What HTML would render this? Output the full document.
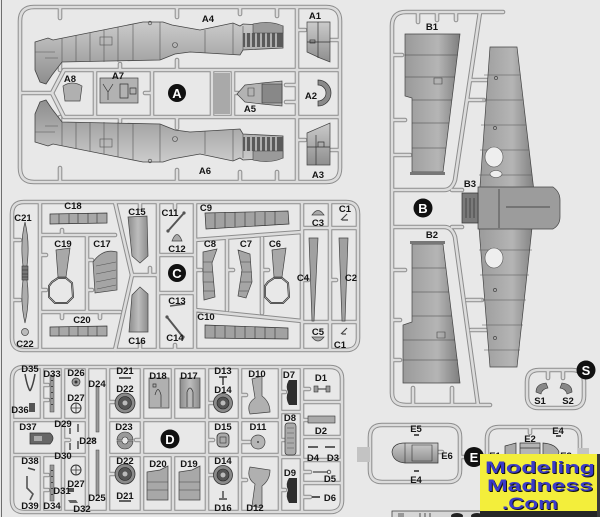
<!DOCTYPE html>
<html><head><meta charset="utf-8"><style>
html,body{margin:0;padding:0;background:#e8e8e8;}
svg{display:block;}
text{font-family:"Liberation Sans",Arial,sans-serif;font-weight:bold;}
</style></head><body>
<svg width="600" height="517" viewBox="0 0 600 517" xmlns="http://www.w3.org/2000/svg">
<defs>
<linearGradient id="gv" x1="0" y1="0" x2="0" y2="1"><stop offset="0" stop-color="#cbcbcb"/><stop offset="1" stop-color="#8e8e8e"/></linearGradient>
<linearGradient id="gh" x1="0" y1="0" x2="1" y2="0"><stop offset="0" stop-color="#8c8c8c"/><stop offset="0.5" stop-color="#bdbdbd"/><stop offset="1" stop-color="#8c8c8c"/></linearGradient>
<linearGradient id="gw" x1="0" y1="0" x2="1" y2="0"><stop offset="0" stop-color="#9a9a9a"/><stop offset="0.6" stop-color="#b5b5b5"/><stop offset="1" stop-color="#7e7e7e"/></linearGradient>
<path id="rA" d="M34,7 H326 Q340,7 340,21 V168 Q340,182 326,182 H34 Q20,182 20,168 V21 Q20,7 34,7 Z M297,7 V182 M20,93 H52 L64,70 H340 M52,93 L64,117 H340 M95,70 V117 M152,70 V117 M212,70 V117 M233,70 V117 M60,7 V18 M177,7 V17 M240,7 V14 M277,7 V16 M60,182 V168 M177,182 V170 M240,182 V172 M277,182 V172 M60,70 V62 M120,70 V64 M177,70 V60 M60,117 V124 M120,117 V122 M177,117 V128 M286,85 H297 M286,102 H297 M297,30 H305 M297,140 H305 M330,40 H340 M330,150 H340 M233,93 H238 M152,93 H145"/>
<path id="rB" d="M392,393 V26 Q392,12 406,12 H503 M480,12 L455,180 Q452,190 444,190 H392 M392,227 H444 Q452,227 455,237 L478,405 M392,393 Q392,405 406,405 H490 M452,190 H462 M452,227 H462 M392,55 H402 M392,120 H405 M392,155 H410 M392,270 H405 M392,320 H400 M392,360 H400 M418,12 V22 M437,12 V20 M456,12 V20 M413,405 V388 M452,405 V388 M470,80 H488 M467,100 H484 M467,300 H482 M471,330 H488"/>
<path id="rC" d="M24,202 H346 Q358,202 358,214 V338 Q358,350 346,350 H24 Q12,350 12,338 V214 Q12,202 24,202 Z M40,202 V350 M40,235 H115 M40,312 H120 M87,235 V312 M115,202 L132,275 L115,350 M132,275 H158 M158,202 V350 M195,202 V350 M158,255 H195 M158,293 H195 M195,240 L302,232 M195,310 L302,321 M227,240 V310 M262,238 V313 M302,202 V350 M330,202 V350 M302,228 H358 M302,322 H358 M40,255 H46 M40,290 H46 M87,260 H92 M87,290 H92 M62,235 V230 M62,312 V318 M100,312 V318 M140,202 V208 M140,350 V344 M175,202 V208 M175,350 V345 M195,270 H201 M227,270 H233 M262,270 H268 M302,280 H308 M330,280 H336 M12,240 H20 M12,300 H20 M150,275 V268"/>
<path id="rD" d="M24,367 H330 Q342,367 342,379 V500 Q342,512 330,512 H24 Q12,512 12,500 V379 Q12,367 24,367 Z M42,367 V420 M42,455 V512 M63,367 V512 M87,367 V512 M108,367 V512 M142,367 V512 M173,367 V420 M173,455 V512 M207,367 V512 M240,367 V512 M280,367 V512 M302,367 V512 M12,420 H87 M12,455 H87 M108,420 H280 M108,455 H280 M280,412 H302 M280,457 H302 M302,402 H342 M302,437 H342 M302,460 H342 M302,483 H342 M42,385 H48 M42,400 H48 M42,475 H48 M42,490 H48 M63,440 H69 M87,440 H93 M108,402 H114 M108,474 H114 M142,440 H136 M207,403 H213 M207,440 H213 M207,475 H213 M240,395 H246 M240,442 H250 M240,480 H246 M280,392 H285 M280,440 H285 M280,490 H285 M302,389 H309 M302,420 H308 M302,472 H310 M302,497 H310"/>
<path id="rS" d="M539,370 H572 Q584,370 584,382 V396 Q584,408 572,408 H539 Q527,408 527,396 V382 Q527,370 539,370 Z M548,370 V378 M563,370 V378"/>
<path id="rE" d="M382,425 H448 Q460,425 460,437 V470 Q460,482 448,482 H382 Q370,482 370,470 V437 Q370,425 382,425 Z M460,457 H465 M499,427 H568 Q580,427 580,439 V475 Q580,487 568,487 H499 Q487,487 487,475 V439 Q487,427 499,427 Z M481,457 H487 M530,427 V433 M437,452 H442"/>
<g id="fus">
<path d="M35,42 L48,38 L53,40 L143,22 L163,22 L172,25 L200,30 L233,23 L240,26 L243,24 L283,26 L283,48 L243,50 L240,55 L207,53 L190,52 L175,54 L160,60 L62,62 L52,75 L46,84 L40,82 L35,70 Z" fill="url(#gv)" stroke="#444" stroke-width="0.8"/>
<path d="M62,38 V62 M76,35 V62 M90,33 V62 M104,30 V62 M118,27 V62 M133,24 V61 M160,22 V60 M205,30 V53 M233,23 V54 M243,26 V50 M35,52 H55 M45,58 H58" stroke="#555" stroke-width="0.6" fill="none"/>
<rect x="100" y="37" width="12" height="8" fill="none" stroke="#555" stroke-width="0.6"/>
<rect x="243" y="33" width="40" height="14" fill="#5a5a5a"/>
<path d="M246,33 V47 M251,33 V47 M256,33 V47 M261,33 V47 M266,33 V47 M271,33 V47 M276,33 V47" stroke="#ddd" stroke-width="1.3"/>
<path d="M253,24 Q270,20 283,26 L283,33 L253,33 Z" fill="#9a9a9a" stroke="#444" stroke-width="0.6"/>
<circle cx="175" cy="45" r="2.5" fill="none" stroke="#444" stroke-width="0.6"/>
<circle cx="150" cy="23" r="1.8" fill="none" stroke="#444" stroke-width="0.6"/>
</g>
</defs>

<line x1="1.5" y1="0" x2="1.5" y2="517" stroke="#6e6e6e" stroke-width="1"/>

<!-- runners -->
<g fill="none" stroke-linecap="round" stroke-linejoin="round">
<use href="#rA" stroke="#8d8d8d" stroke-width="4.6"/><use href="#rA" stroke="#dcdcdc" stroke-width="2.6"/>
<use href="#rB" stroke="#8d8d8d" stroke-width="4.6"/><use href="#rB" stroke="#dcdcdc" stroke-width="2.6"/>
<use href="#rC" stroke="#8d8d8d" stroke-width="4.6"/><use href="#rC" stroke="#dcdcdc" stroke-width="2.6"/>
<use href="#rD" stroke="#8d8d8d" stroke-width="4.6"/><use href="#rD" stroke="#dcdcdc" stroke-width="2.6"/>
<use href="#rS" stroke="#8d8d8d" stroke-width="4.6"/><use href="#rS" stroke="#dcdcdc" stroke-width="2.6"/>
<use href="#rE" stroke="#8d8d8d" stroke-width="4.6"/><use href="#rE" stroke="#dcdcdc" stroke-width="2.6"/>
</g>

<!-- SPRUE A parts -->
<use href="#fus"/>
<use href="#fus" transform="matrix(1,0,0,-1,0,184)"/>
<rect x="213" y="73" width="17" height="41" fill="#a9a9a9"/>
<path d="M307,22 H330 V62 L320,58 L307,52 Z" fill="url(#gv)" stroke="#444" stroke-width="0.7"/>
<path d="M318,22 V58 M307,42 H330 M310,40 h5 v3 h-5z" stroke="#333" stroke-width="0.7" fill="none"/>
<path d="M307,133 L330,123 V165 H307 Z" fill="url(#gv)" stroke="#444" stroke-width="0.7"/>
<path d="M316,135 V165 M307,147 H330 M318,142 h6 v5 h-6z" stroke="#333" stroke-width="0.7" fill="none"/>
<path d="M318,80 A13,13 0 0 1 318,106 L318,101 A8,8 0 0 0 318,85 Z" fill="#8a8a8a" stroke="#333" stroke-width="0.7"/>
<path d="M237,94 L245,85 L262,83 L282,81 V106 L262,104 L245,102 Z" fill="#b3b3b3" stroke="#444" stroke-width="0.7"/>
<path d="M262,84 H282 V103 H262 Z" fill="#888" stroke="#333" stroke-width="0.6"/>
<path d="M248,88 h6 v8 h-6z" fill="none" stroke="#444" stroke-width="0.6"/>
<rect x="100" y="78" width="38" height="25" fill="#b2b2b2" stroke="#444" stroke-width="0.7"/>
<path d="M103,84 L108,92 L113,84 M108,92 V100 M120,84 h8 v14 h-8z M130,88 h6 v6 h-6z" fill="none" stroke="#333" stroke-width="0.7"/>
<path d="M63,86 Q72,80 82,86 L80,101 L65,101 Z" fill="#b0b0b0" stroke="#444" stroke-width="0.7"/>

<!-- SPRUE B parts -->
<path d="M405,34 H460 L443,172 H412 V98 L405,96 Z" fill="url(#gw)" stroke="#444" stroke-width="0.7"/>
<path d="M405,55 H458 M405,77 H455 M412,100 H452 M412,123 H449 M412,148 H446 M434,78 h8 v6 h-8z" stroke="#444" stroke-width="0.6" fill="none"/>
<path d="M410,172 H445 V175 H410 Z" fill="#777"/>
<path d="M412,244 H443 L460,383 H403 V325 L412,322 Z" fill="url(#gw)" stroke="#444" stroke-width="0.7"/>
<path d="M412,268 H446 M412,292 H449 M412,316 H452 M403,340 H455 M403,360 H458 M437,332 h8 v6 h-8z" stroke="#444" stroke-width="0.6" fill="none"/>
<path d="M410,241 H445 V244 H410 Z" fill="#777"/>
<path d="M490,47 H517 L535,200 L517,367 H490 L478,215 Z" fill="url(#gw)" stroke="#444" stroke-width="0.7"/>
<path d="M484,75 H520 M482,100 H523 M481,125 H526 M480,150 H529 M479,175 H532 M479,250 H532 M480,275 H529 M481,300 H526 M482,325 H523 M484,350 H520" stroke="#555" stroke-width="0.6" fill="none"/>
<path d="M478,187 H553 Q560,192 560,200 V217 Q560,225 553,229 H478 Z" fill="#9c9c9c" stroke="#444" stroke-width="0.7"/>
<path d="M462,193 H478 V223 H462 Z" fill="#7a7a7a" stroke="#333" stroke-width="0.7"/>
<path d="M499,189 V228 M506,207 H550 M466,198 V218 M470,198 V218 M474,198 V218" stroke="#333" stroke-width="0.7" fill="none"/>
<ellipse cx="494" cy="157" rx="9" ry="10" fill="#eeeeee" stroke="#555" stroke-width="0.6"/>
<ellipse cx="496" cy="174" rx="6" ry="3.5" fill="#eeeeee" stroke="#555" stroke-width="0.6"/>
<ellipse cx="494" cy="258" rx="9" ry="10" fill="#eeeeee" stroke="#555" stroke-width="0.6"/>
<circle cx="496" cy="78" r="1.6" fill="none" stroke="#333" stroke-width="0.6"/>
<circle cx="495" cy="128" r="1.6" fill="none" stroke="#333" stroke-width="0.6"/>
<circle cx="495" cy="290" r="1.6" fill="none" stroke="#333" stroke-width="0.6"/>
<circle cx="495" cy="338" r="1.6" fill="none" stroke="#333" stroke-width="0.6"/>

<!-- SPRUE C parts -->
<path d="M25,222 Q30,242 27,266 L27,280 Q30,302 25,323 Q20,302 23,280 L23,266 Q20,242 25,222 Z" fill="#adadad" stroke="#444" stroke-width="0.7"/>
<rect x="22" y="266" width="6" height="14" fill="#777" stroke="#333" stroke-width="0.6"/>
<path d="M22,270 H28 M22,274 H28 M22,277 H28" stroke="#222" stroke-width="0.6"/>
<circle cx="25" cy="332" r="3.5" fill="#bbb" stroke="#444" stroke-width="0.7"/>
<path d="M50,214 L107,213 V223 L50,224 Z" fill="#a8a8a8" stroke="#333" stroke-width="0.7"/>
<path d="M59,214 V224 M69,214 V224 M78,213 V223 M88,213 V223 M97,213 V223" stroke="#333" stroke-width="0.6"/>
<path d="M50,327 L107,326 V336 L50,336 Z" fill="#a8a8a8" stroke="#333" stroke-width="0.7"/>
<path d="M59,327 V336 M69,327 V336 M78,326 V336 M88,326 V336 M97,326 V336" stroke="#333" stroke-width="0.6"/>
<path d="M56,250 L70,248 L66,277 L58,277 Z" fill="#a8a8a8" stroke="#444" stroke-width="0.7"/>
<path d="M52,282 L58,278 L66,278 L72,283 L73,297 L67,303 L55,303 L49,297 L49,286 Z" fill="none" stroke="#333" stroke-width="2"/>
<path d="M52,282 L58,278 L66,278 L72,283 L73,297 L67,303 L55,303 L49,297 L49,286 Z" fill="none" stroke="#ccc" stroke-width="0.6"/>
<path d="M93,262 Q103,248 117,252 L117,290 L95,293 Z" fill="#a5a5a5" stroke="#444" stroke-width="0.7"/>
<path d="M96,266 L116,262 M96,274 L116,270 M96,282 L116,278 M97,289 L116,285" stroke="#555" stroke-width="0.6"/>
<path d="M128,217 L147,216 L148,256 L140,263 L132,256 Z" fill="url(#gh)" stroke="#444" stroke-width="0.7"/>
<path d="M132,295 L140,287 L148,294 L148,332 L129,332 Z" fill="url(#gh)" stroke="#444" stroke-width="0.7"/>
<path d="M168,231 L184,213 M167,317 L183,337" stroke="#555" stroke-width="2"/>
<circle cx="168" cy="231" r="1.6" fill="#555"/><circle cx="184" cy="213" r="1.6" fill="#555"/>
<circle cx="167" cy="317" r="1.6" fill="#555"/><circle cx="183" cy="337" r="1.6" fill="#555"/>
<path d="M172,241 Q177,228 182,241 Z" fill="#aaa" stroke="#444" stroke-width="0.7"/>
<path d="M170,306 L185,304" stroke="#555" stroke-width="1.6"/>
<path d="M205,213 L288,211 L289,224 L206,229 Z" fill="#a2a2a2" stroke="#333" stroke-width="0.7"/>
<path d="M215,213 V229 M225,212 V228 M235,212 V227 M245,212 V227 M255,212 V226 M265,212 V226 M275,211 V225" stroke="#333" stroke-width="0.6"/>
<path d="M205,325 L288,328 L288,339 L205,338 Z" fill="#a2a2a2" stroke="#333" stroke-width="0.7"/>
<path d="M215,325 V338 M225,326 V338 M235,326 V338 M245,326 V338 M255,327 V339 M265,327 V339 M275,328 V339" stroke="#333" stroke-width="0.6"/>
<path d="M203,252 L217,249 L212,263 L215,297 L204,300 L203,280 Z" fill="#a5a5a5" stroke="#444" stroke-width="0.7"/>
<path d="M203,262 H212 M203,272 H213 M203,282 H214 M203,291 H215" stroke="#444" stroke-width="0.6"/>
<path d="M238,250 L250,254 L252,282 L246,298 L238,296 L242,270 Z" fill="#a5a5a5" stroke="#444" stroke-width="0.7"/>
<path d="M241,262 H251 M241,272 H252 M240,282 H252 M239,291 H248" stroke="#444" stroke-width="0.6"/>
<path d="M272,250 L286,248 L282,277 L274,277 Z" fill="#a8a8a8" stroke="#444" stroke-width="0.7"/>
<path d="M268,282 L274,278 L282,278 L288,283 L289,297 L283,303 L271,303 L265,297 L265,286 Z" fill="none" stroke="#333" stroke-width="2"/>
<path d="M268,282 L274,278 L282,278 L288,283 L289,297 L283,303 L271,303 L265,297 L265,286 Z" fill="none" stroke="#ccc" stroke-width="0.6"/>
<path d="M309,238 H318 L314,321 H312 Z" fill="#a0a0a0" stroke="#444" stroke-width="0.7"/>
<path d="M339,238 H348 L345,321 H342 Z" fill="#a0a0a0" stroke="#444" stroke-width="0.7"/>
<path d="M312,215 Q318,206 324,215 Z" fill="#aaa" stroke="#444" stroke-width="0.7"/>
<path d="M312,337 Q318,345 324,337 Z" fill="#aaa" stroke="#444" stroke-width="0.7"/>
<path d="M341,220 L347,214 M342,220 H348" stroke="#444" stroke-width="1.2"/>
<path d="M341,334 L347,328 M342,334 H346" stroke="#444" stroke-width="1.2"/>

<!-- SPRUE D parts -->
<path d="M25,374 Q27,386 30,391 M35,374 Q33,386 30,391" fill="none" stroke="#444" stroke-width="1.5"/>
<rect x="50" y="375" width="4" height="37" fill="#999" stroke="#444" stroke-width="0.5"/>
<path d="M52,380 v1 M52,386 v1 M52,392 v1 M52,398 v1 M52,404 v1" stroke="#222" stroke-width="1.5"/>
<rect x="50" y="465" width="4" height="36" fill="#999" stroke="#444" stroke-width="0.5"/>
<path d="M52,470 v1 M52,476 v1 M52,482 v1 M52,488 v1 M52,494 v1" stroke="#222" stroke-width="1.5"/>
<circle cx="76" cy="382" r="4" fill="#999" stroke="#333" stroke-width="0.7"/><circle cx="76" cy="382" r="1.5" fill="#333"/>
<rect x="29" y="403" width="6" height="9" fill="#555"/>
<circle cx="76" cy="408" r="5" fill="none" stroke="#333" stroke-width="1"/><path d="M71,408 H81 M76,403 V413" stroke="#333" stroke-width="0.8"/>
<circle cx="76" cy="470" r="5" fill="none" stroke="#333" stroke-width="1"/><path d="M71,470 H81 M76,465 V475" stroke="#333" stroke-width="0.8"/>
<rect x="96" y="387" width="3" height="45" fill="#999" stroke="#444" stroke-width="0.5"/>
<rect x="96" y="450" width="3" height="45" fill="#999" stroke="#444" stroke-width="0.5"/>
<path d="M30,433 H50 Q56,438 50,444 H30 Z" fill="#666" stroke="#333" stroke-width="0.7"/>
<path d="M34,436 h8 v5 h-8z" fill="#aaa"/>
<path d="M70,428 V434 M78,424 V432 M70,443 V450 M78,441 V449" stroke="#444" stroke-width="1.4"/>
<path d="M28,468 L35,470" stroke="#444" stroke-width="1.5"/>
<path d="M27,476 V488 L33,494 L30,500" fill="none" stroke="#555" stroke-width="1.6"/>
<rect x="68" y="488" width="6" height="4" fill="#555"/>
<path d="M68,500 H76 L78,503 H70 Z" fill="#666"/>
<path d="M119,378 H131 M119,501 H131" stroke="#333" stroke-width="1.6"/>
<g fill="#8a8a8a" stroke="#333" stroke-width="0.8">
<circle cx="125" cy="403" r="10"/><circle cx="125" cy="474" r="10"/>
<circle cx="223" cy="403" r="9.5"/><circle cx="223" cy="475" r="9.5"/>
</g>
<g fill="#555" stroke="#222" stroke-width="0.6">
<circle cx="125" cy="403" r="6.5"/><circle cx="125" cy="474" r="6.5"/>
<circle cx="223" cy="403" r="6"/><circle cx="223" cy="475" r="6"/>
</g>
<g fill="#bbb"><circle cx="125" cy="403" r="2.5"/><circle cx="125" cy="474" r="2.5"/><circle cx="223" cy="403" r="2.5"/><circle cx="223" cy="475" r="2.5"/></g>
<path d="M117,440 A8,8 0 0 1 133,440 L128,440 A3,3 0 0 0 122,440 Z M117,441 A8,8 0 0 0 133,441 L128,441 A3,3 0 0 1 122,441 Z" fill="#999" stroke="#333" stroke-width="0.6"/>
<path d="M149,378 H169 V408 H149 Z" fill="#b0b0b0" stroke="#444" stroke-width="0.7"/>
<path d="M155,395 Q158,384 161,395 V407 M153,384 h3 v3 h-3z" fill="none" stroke="#333" stroke-width="0.7"/>
<path d="M180,378 H200 V408 H180 Z" fill="url(#gh)" stroke="#444" stroke-width="0.7"/>
<path d="M187,407 V392 Q190,384 193,392 V407" fill="none" stroke="#333" stroke-width="0.7"/>
<path d="M147,472 L160,470 L168,466 V500 H147 Z" fill="#a8a8a8" stroke="#444" stroke-width="0.7"/>
<path d="M147,482 H168 M147,490 H168" stroke="#444" stroke-width="0.6"/>
<path d="M179,472 L192,470 L200,466 V500 H179 Z" fill="#a8a8a8" stroke="#444" stroke-width="0.7"/>
<path d="M179,482 H200 M179,490 H200" stroke="#444" stroke-width="0.6"/>
<path d="M219,377 H227 M223,377 V385" stroke="#333" stroke-width="1.4"/>
<rect x="217" y="433" width="12" height="14" rx="4" fill="#aaa" stroke="#333" stroke-width="0.8"/>
<rect x="220" y="437" width="6" height="6" fill="none" stroke="#333" stroke-width="0.6"/>
<path d="M223,491 V498 M219,499 H227" stroke="#444" stroke-width="1.4"/>
<path d="M252,379 L262,376 L262,396 Q270,402 270,412 L250,414 Q246,404 255,398 Z" fill="#b0b0b0" stroke="#444" stroke-width="0.7"/>
<path d="M252,506 L262,508 L262,486 Q270,480 270,470 L250,467 Q246,478 255,484 Z" fill="#b0b0b0" stroke="#444" stroke-width="0.7"/>
<circle cx="258" cy="442" r="7" fill="#b5b5b5" stroke="#444" stroke-width="0.7"/><circle cx="258" cy="442" r="1" fill="#444"/>
<path d="M289,380 H297 V405 H289 Q285,398 288,392 Q285,386 289,380 Z" fill="#2e2e2e"/>
<path d="M289,478 H297 V503 H289 Q285,496 288,490 Q285,484 289,478 Z" fill="#2e2e2e"/>
<rect x="285" y="423" width="11" height="32" rx="3" fill="#aaa" stroke="#333" stroke-width="0.7"/>
<path d="M287,428 H294 M287,433 H294 M287,438 H294 M287,443 H294 M287,448 H294" stroke="#555" stroke-width="0.6"/>
<rect x="314" y="386" width="4" height="6" fill="#999" stroke="#333" stroke-width="0.6"/><rect x="326" y="386" width="4" height="6" fill="#999" stroke="#333" stroke-width="0.6"/>
<path d="M318,389 H326" stroke="#333" stroke-width="1"/>
<rect x="308" y="416" width="27" height="7" fill="#aaa" stroke="#333" stroke-width="0.6"/>
<path d="M308,447 H318 M325,447 H335" stroke="#333" stroke-width="1.4"/>
<path d="M313,472 H328" stroke="#444" stroke-width="1.2"/><circle cx="329" cy="472" r="1.8" fill="none" stroke="#444" stroke-width="0.8"/>
<path d="M312,497 H320" stroke="#444" stroke-width="1.8"/>

<!-- SPRUE S parts -->
<path d="M536,392 Q536,384 546,383 L548,388 Q542,389 541,394 Z" fill="#888" stroke="#333" stroke-width="0.6"/>
<path d="M572,392 Q572,384 562,383 L560,388 Q566,389 567,394 Z" fill="#888" stroke="#333" stroke-width="0.6"/>

<!-- SPRUE E parts -->
<rect x="357" y="447" width="13" height="15" fill="#c3c3c3"/>
<rect x="578" y="448" width="11" height="12" fill="#c3c3c3"/>
<path d="M392,452 Q393,443 405,443 H438 V463 H405 Q393,462 392,452 Z" fill="url(#gv)" stroke="#333" stroke-width="0.7"/>
<path d="M405,443 V463 M412,445 H432 V461 H412 Z" fill="none" stroke="#333" stroke-width="0.6"/>
<rect x="414" y="434" width="5" height="2" fill="#555"/><rect x="414" y="470" width="5" height="2" fill="#555"/>
<rect x="556" y="435" width="5" height="2" fill="#555"/>
<path d="M505,446 L516,443 V460 H505 Z" fill="#aaa" stroke="#333" stroke-width="0.7"/>
<path d="M520,443 H540 V460 H520 Z M520,448 H540" fill="#b5b5b5" stroke="#333" stroke-width="0.7"/>
<path d="M543,443 Q556,444 559,452 L556,460 H543 Z" fill="#aaa" stroke="#333" stroke-width="0.7"/>

<!-- sprue letter circles -->
<g fill="#111"><circle cx="177" cy="93" r="9"/><circle cx="423" cy="208" r="9.5"/><circle cx="177" cy="273" r="9"/><circle cx="170" cy="439" r="9.5"/><circle cx="586" cy="370" r="9.5"/><circle cx="474" cy="457" r="10"/></g>
<g fill="#fff" font-size="13" text-anchor="middle">
<text x="177" y="98">A</text><text x="423" y="213">B</text><text x="177" y="278">C</text><text x="170" y="444">D</text><text x="586" y="375">S</text><text x="474" y="462">E</text>
</g>

<!-- labels -->
<g fill="#151515" font-size="9.5" text-anchor="middle">
<text x="208" y="22">A4</text><text x="315" y="19">A1</text><text x="70" y="82">A8</text><text x="118" y="79">A7</text>
<text x="250" y="112">A5</text><text x="311" y="99">A2</text><text x="205" y="174">A6</text><text x="318" y="178">A3</text>
<text x="432" y="30">B1</text><text x="470" y="187">B3</text><text x="432" y="238">B2</text>
<text x="23" y="221">C21</text><text x="73" y="209">C18</text><text x="137" y="215">C15</text><text x="170" y="216">C11</text>
<text x="206" y="211">C9</text><text x="345" y="212">C1</text><text x="318" y="226">C3</text><text x="177" y="252">C12</text>
<text x="63" y="247">C19</text><text x="102" y="247">C17</text><text x="210" y="247">C8</text><text x="246" y="247">C7</text>
<text x="275" y="247">C6</text><text x="303" y="281">C4</text><text x="351" y="281">C2</text><text x="177" y="304">C13</text>
<text x="82" y="323">C20</text><text x="206" y="320">C10</text><text x="318" y="335">C5</text><text x="25" y="347">C22</text>
<text x="137" y="344">C16</text><text x="175" y="341">C14</text><text x="340" y="348">C1</text>
<text x="30" y="372">D35</text><text x="52" y="377">D33</text><text x="76" y="376">D26</text><text x="97" y="387">D24</text>
<text x="125" y="374">D21</text><text x="158" y="379">D18</text><text x="189" y="379">D17</text><text x="223" y="374">D13</text>
<text x="257" y="377">D10</text><text x="289" y="378">D7</text><text x="321" y="381">D1</text><text x="125" y="392">D22</text>
<text x="223" y="393">D14</text><text x="76" y="401">D27</text><text x="20" y="413">D36</text><text x="290" y="421">D8</text>
<text x="63" y="427">D29</text><text x="28" y="430">D37</text><text x="124" y="430">D23</text><text x="223" y="430">D15</text>
<text x="258" y="430">D11</text><text x="321" y="434">D2</text><text x="88" y="444">D28</text><text x="63" y="459">D30</text>
<text x="313" y="461">D4</text><text x="333" y="461">D3</text><text x="30" y="464">D38</text><text x="125" y="464">D22</text>
<text x="158" y="467">D20</text><text x="189" y="467">D19</text><text x="223" y="464">D14</text><text x="290" y="476">D9</text>
<text x="330" y="482">D5</text><text x="76" y="487">D27</text><text x="62" y="494">D31</text><text x="125" y="499">D21</text>
<text x="97" y="501">D25</text><text x="330" y="501">D6</text><text x="30" y="509">D39</text><text x="52" y="509">D34</text>
<text x="82" y="512">D32</text><text x="223" y="511">D16</text><text x="255" y="511">D12</text>
<text x="540" y="404">S1</text><text x="568" y="404">S2</text>
<text x="416" y="432">E5</text><text x="447" y="459">E6</text><text x="416" y="483">E4</text><text x="530" y="442">E2</text>
<text x="558" y="434">E4</text><text x="495" y="459">E1</text><text x="566" y="459">E3</text>
</g>

<!-- bottom strip -->
<rect x="392" y="511" width="208" height="8" fill="#d6d6d6" stroke="#444" stroke-width="0.8"/>
<path d="M398,514 h6 M398,516 h6 M420,513 v4 M425,513 v4 M430,513 v4" stroke="#333" stroke-width="0.8"/>
<ellipse cx="457" cy="516" rx="6" ry="3" fill="#222"/><ellipse cx="477" cy="516" rx="6" ry="3" fill="#222"/>

<!-- logo -->
<rect x="480" y="454" width="120" height="58" fill="#f3ee3b"/>
<rect x="480" y="511" width="120" height="6" fill="#262626"/>
<rect x="597" y="454" width="3" height="63" fill="#3a3a3a"/>
<g font-size="17" font-weight="900">
<text x="486" y="474" textLength="110" lengthAdjust="spacingAndGlyphs" fill="#111">Modeling</text>
<text x="485" y="473" textLength="110" lengthAdjust="spacingAndGlyphs" fill="#3a3ac9">Modeling</text>
<text x="488" y="492" textLength="106" lengthAdjust="spacingAndGlyphs" fill="#111">Madness</text>
<text x="487" y="491" textLength="106" lengthAdjust="spacingAndGlyphs" fill="#3a3ac9">Madness</text>
<text x="503" y="510" textLength="56" lengthAdjust="spacingAndGlyphs" fill="#111">.Com</text>
<text x="502" y="509" textLength="56" lengthAdjust="spacingAndGlyphs" fill="#3a3ac9">.Com</text>
</g>
</svg>
</body></html>
